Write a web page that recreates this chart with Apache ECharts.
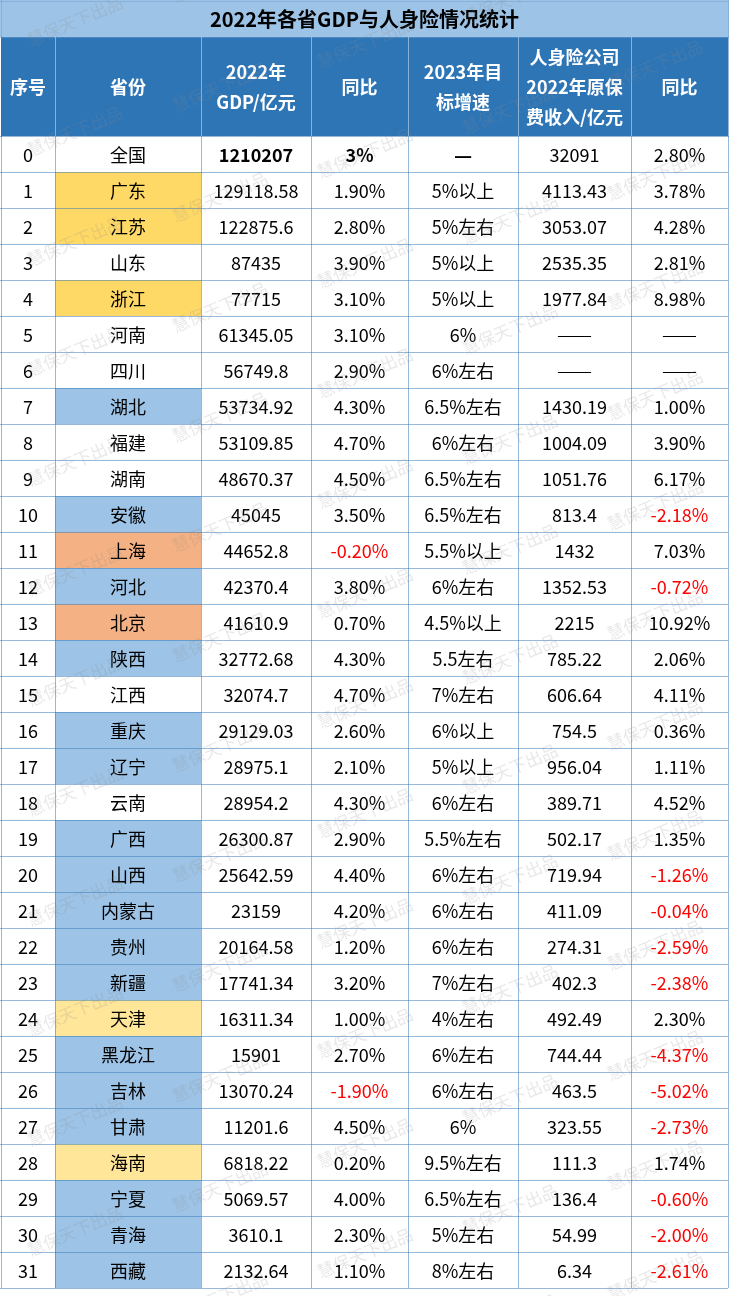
<!DOCTYPE html>
<html><head><meta charset="utf-8">
<script src="https://cdn.jsdelivr.net/npm/echarts@6.0.0/dist/echarts.min.js"></script>
<style>html,body{margin:0;padding:0;background:#fff}#c{width:731px;height:1296px}</style>
</head><body><div id="c"></div>
<script>
// ---------- data ----------
const title = '2022年各省GDP与人身险情况统计';
const headers = ['序号', '省份', '2022年\nGDP/亿元', '同比', '2023年目\n标增速', '人身险公司\n2022年原保\n费收入/亿元', '同比'];
const seq = [0,1,2,3,4,5,6,7,8,9,10,11,12,13,14,15,16,17,18,19,20,21,22,23,24,25,26,27,28,29,30,31];
const provinces = ['全国','广东','江苏','山东','浙江','河南','四川','湖北','福建','湖南','安徽','上海','河北','北京','陕西','江西','重庆','辽宁','云南','广西','山西','内蒙古','贵州','新疆','天津','黑龙江','吉林','甘肃','海南','宁夏','青海','西藏'];
const provinceGroup = ['none','gold','gold','none','gold','none','none','blue','none','none','blue','orange','blue','orange','blue','none','blue','blue','none','blue','blue','blue','blue','blue','light','blue','blue','blue','light','blue','blue','blue'];
const gdp2022 = [1210207,129118.58,122875.6,87435,77715,61345.05,56749.8,53734.92,53109.85,48670.37,45045,44652.8,42370.4,41610.9,32772.68,32074.7,29129.03,28975.1,28954.2,26300.87,25642.59,23159,20164.58,17741.34,16311.34,15901,13070.24,11201.6,6818.22,5069.57,3610.1,2132.64];
const gdpYoY = [3,1.90,2.80,3.90,3.10,3.10,2.90,4.30,4.70,4.50,3.50,-0.20,3.80,0.70,4.30,4.70,2.60,2.10,4.30,2.90,4.40,4.20,1.20,3.20,1.00,2.70,-1.90,4.50,0.20,4.00,2.30,1.10];
const target2023 = ['—','5%以上','5%左右','5%以上','5%以上','6%','6%左右','6.5%左右','6%左右','6.5%左右','6.5%左右','5.5%以上','6%左右','4.5%以上','5.5左右','7%左右','6%以上','5%以上','6%左右','5.5%左右','6%左右','6%左右','6%左右','7%左右','4%左右','6%左右','6%左右','6%','9.5%左右','6.5%左右','5%左右','8%左右'];
const premium2022 = [32091,4113.43,3053.07,2535.35,1977.84,null,null,1430.19,1004.09,1051.76,813.4,1432,1352.53,2215,785.22,606.64,754.5,956.04,389.71,502.17,719.94,411.09,274.31,402.3,492.49,744.44,463.5,323.55,111.3,136.4,54.99,6.34];
const premiumYoY = [2.80,3.78,4.28,2.81,8.98,null,null,1.00,3.90,6.17,-2.18,7.03,-0.72,10.92,2.06,4.11,0.36,1.11,4.52,1.35,-1.26,-0.04,-2.59,-2.38,2.30,-4.37,-5.02,-2.73,1.74,-0.60,-2.00,-2.61];
const watermarkText = '慧保天下出品';

// ---------- layout & style ----------
const W = 731, H = 1296;
const colEdges = [1, 55, 201, 311, 408, 518, 631, 728];
const TITLE_TOP = 0, HEADER_TOP = 37, BODY_TOP = 136, ROW_H = 36;
const groupColor = {none:'#ffffff', gold:'#FFD966', light:'#FFE699', blue:'#9DC3E6', orange:'#F4B183'};
const FONT = '"Noto Sans CJK SC","Microsoft YaHei",sans-serif';
const nRows = seq.length;
const BODY_BOTTOM = BODY_TOP + ROW_H * nRows;

function rowSpan(r) {
  if (r === -2) return [TITLE_TOP, HEADER_TOP];
  if (r === -1) return [HEADER_TOP, BODY_TOP];
  return [BODY_TOP + ROW_H * r, BODY_TOP + ROW_H * (r + 1)];
}
function pct(v) { return v.toFixed(2) + '%'; }

const cellData = [[0, -2]];
headers.forEach((h, c) => cellData.push([c, -1]));
for (let r = 0; r < nRows; r++) for (let c = 0; c < 7; c++) cellData.push([c, r]);

function cellContent(c, r) {
  const o = {text:'', fill:'#ffffff', color:'#000', weight:'normal', size:18, lh:30};
  if (r === -2) { o.text = title; o.fill = '#9DC3E6'; o.weight = 'bold'; o.size = 20; return o; }
  if (r === -1) { o.text = headers[c]; o.fill = '#2E75B6'; o.color = '#ffffff'; o.weight = 'bold'; return o; }
  switch (c) {
    case 0: o.text = String(seq[r]); break;
    case 1: o.text = provinces[r]; o.fill = groupColor[provinceGroup[r]]; break;
    case 2: o.text = String(gdp2022[r]); if (r === 0) o.weight = 'bold'; break;
    case 3:
      if (r === 0) { o.text = gdpYoY[r] + '%'; o.weight = 'bold'; }
      else { o.text = pct(gdpYoY[r]); if (gdpYoY[r] < 0) o.color = '#FF0000'; }
      break;
    case 4: o.text = target2023[r]; if (target2023[r] === '—') { o.weight = 'bold'; o.size = 20; } break;
    case 5:
      if (premium2022[r] === null) { o.text = '———'; o.size = 14; }
      else o.text = String(premium2022[r]);
      break;
    case 6:
      if (premiumYoY[r] === null) { o.text = '———'; o.size = 14; }
      else { o.text = pct(premiumYoY[r]); if (premiumYoY[r] < 0) o.color = '#FF0000'; }
      break;
  }
  return o;
}

function renderCell(params, api) {
  const c = api.value(0), r = api.value(1);
  let x0 = colEdges[c], x1 = colEdges[c + 1];
  if (r === -2) { x0 = 0; x1 = colEdges[7] + 1; }
  const [ya, yb] = rowSpan(r);
  const p0 = api.coord([x0, ya]), p1 = api.coord([x1, yb]);
  const o = cellContent(c, r);
  return {
    type: 'group',
    children: [
      {type:'rect', shape:{x:p0[0], y:p0[1], width:p1[0]-p0[0], height:p1[1]-p0[1]}, style:{fill:o.fill}},
      {type:'text', style:{text:o.text, x:(p0[0]+p1[0])/2, y:(p0[1]+p1[1])/2 + 1, align:'center', verticalAlign:'middle',
        fill:o.color, font:o.weight + ' ' + o.size + 'px ' + FONT, lineHeight:o.lh}}
    ]
  };
}

// grid lines: [x1,y1,x2,y2,kind]
const lineData = [];
lineData.push([0, TITLE_TOP + 0.5, colEdges[7], TITLE_TOP + 0.5, 1]);
lineData.push([0, HEADER_TOP, colEdges[7], HEADER_TOP, 1]);
lineData.push([0, BODY_TOP, colEdges[7], BODY_TOP, 0]);
for (let r = 1; r <= nRows; r++) lineData.push([0, BODY_TOP + ROW_H * r, colEdges[7], BODY_TOP + ROW_H * r, 0]);
colEdges.forEach((x, i) => {
  if (i === 0 || i === 7) lineData.push([x, TITLE_TOP, x, HEADER_TOP, 1]);
  lineData.push([x, HEADER_TOP, x, BODY_TOP, (i === 0 || i === 7) ? 0 : 2]);
  lineData.push([x, BODY_TOP, x, BODY_BOTTOM, 0]);
});
const lineColors = ['#2E75B6', '#6F9FD0', 'rgba(255,255,255,0.85)'];

function renderLine(params, api) {
  const a = api.coord([api.value(0), api.value(1)]);
  const b = api.coord([api.value(2), api.value(3)]);
  const k = api.value(4);
  const off = 0.5;
  return {type:'line', shape:{x1:Math.round(a[0]) + off, y1:Math.round(a[1]) + off, x2:Math.round(b[0]) + off, y2:Math.round(b[1]) + off},
    style:{stroke:lineColors[k], lineWidth:1, lineDash:[1, 1]}};
}

// watermark lattice
const graphics = [];
for (let j = -3; j <= 5; j++) {
  for (let i = -2; i <= 14; i++) {
    const cx = 220 + 145 * j;
    const cy = 197 - 44 * j + 110 * i;
    if (cx < -80 || cx > W + 80 || cy < -40 || cy > H + 40) continue;
    graphics.push({type:'text', x:cx, y:cy, rotation:0.40, silent:true, z:100,
      style:{text:watermarkText, align:'center', verticalAlign:'middle', font:'17px ' + FONT, fill:'rgba(140,140,140,0.20)'}});
  }
}

const chart = echarts.init(document.getElementById('c'), null, {renderer:'canvas'});
chart.setOption({
  animation: false,
  backgroundColor: '#ffffff',
  grid: {left:0, top:0, width:W, height:H, containLabel:false},
  xAxis: {type:'value', min:0, max:W, show:false},
  yAxis: {type:'value', min:0, max:H, inverse:true, show:false},
  series: [
    {type:'custom', coordinateSystem:'cartesian2d', renderItem:renderCell, data:cellData, clip:false, silent:true, z:1},
    {type:'custom', coordinateSystem:'cartesian2d', renderItem:renderLine, data:lineData, clip:false, silent:true, z:2}
  ],
  graphic: graphics
});
</script>
</body></html>
